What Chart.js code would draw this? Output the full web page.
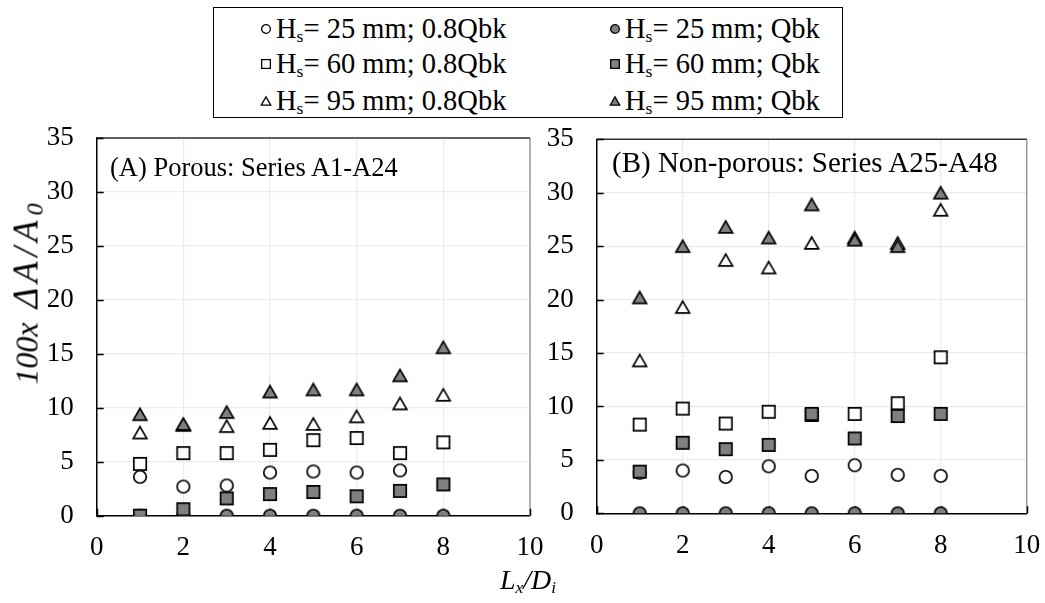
<!DOCTYPE html>
<html>
<head>
<meta charset="utf-8">
<script src="https://cdn.jsdelivr.net/npm/chart.js@4.4.0/dist/chart.umd.min.js"></script>
<style>
  html, body { margin: 0; padding: 0; background: #fff; }
  #wrap { position: relative; width: 1045px; height: 603px; overflow: hidden;
          font-family: "Liberation Serif", "Times New Roman", serif; color: #000; }
  canvas { position: absolute; top: 0; }
  #cA { left: 0; }
  #cB { left: 535px; }
  .legend { position: absolute; left: 213px; top: 7px; width: 630px; height: 111px;
            border: 1px solid #000; box-sizing: border-box; background: #fff; font-size: 28.5px; }
  .item { position: absolute; white-space: nowrap; line-height: 30px; height: 30px; }
  .item canvas { position: static; vertical-align: middle; margin-right: 3px; margin-top: -4px; }
  .item sub, .ttl sub { font-size: 62%; vertical-align: -0.22em; line-height: 0; }
  .panel { position: absolute; line-height: 28px; white-space: nowrap; }
  .ttl { position: absolute; font-style: italic; white-space: nowrap; line-height: 1; }
  #ytitle .wide { font-size: 35px; letter-spacing: 5px; margin-left: 6px; }
  #ytitle sub { font-size: 24px; }
</style>
</head>
<body>
<div id="wrap">
  <canvas id="cA" width="545" height="603"></canvas>
  <canvas id="cB" width="510" height="603"></canvas>
  <div class="legend" id="legend"></div>
  <div class="panel" id="labA" style="left:110px; top:153px; font-size:26.5px;">(A) Porous: Series A1-A24</div>
  <div class="panel" id="labB" style="left:612px; top:148px; font-size:29px;">(B) Non-porous: Series A25-A48</div>
  <div class="ttl" id="ytitle" style="left:26px; top:294px; font-size:32px; transform: translate(-50%,-50%) rotate(-90deg);">100x <span class="wide">ΔA/A</span><sub>0</sub></div>
  <div class="ttl" id="xtitle" style="left:528px; top:580px; font-size:28px; transform: translate(-50%,-50%);">L<sub>x</sub>/D<sub>i</sub></div>
</div>
<script>
// Relative distance from the inlet, L_x / D_i
const lxdi = [1, 2, 3, 4, 5, 6, 7, 8];

// (A) Porous sediment: Series A1-A24, values of 100x dA/A0
const porous_25_08 = [3.6, 2.7, 2.8, 4.0, 4.1, 4.0, 4.2, null];
const porous_25_q  = [0, 0, 0, 0, 0, 0, 0, 0];
const porous_60_08 = [4.8, 5.8, 5.8, 6.1, 7.0, 7.2, 5.8, 6.8];
const porous_60_q  = [0.0, 0.6, 1.6, 2.0, 2.2, 1.8, 2.3, 2.9];
const porous_95_08 = [7.7, 8.4, 8.3, 8.6, 8.5, 9.2, 10.4, 11.2];
const porous_95_q  = [9.4, 8.5, 9.6, 11.5, 11.7, 11.7, 13.0, 15.6];

// (B) Non-porous sediment: Series A25-A48
const solid_25_08 = [3.8, 4.0, 3.4, 4.4, 3.5, 4.5, 3.6, 3.5];
const solid_25_q  = [0, 0, 0, 0, 0, 0, 0, 0];
const solid_60_08 = [8.3, 9.8, 8.4, 9.5, 9.2, 9.3, 10.3, 14.6];
const solid_60_q  = [3.9, 6.6, 6.0, 6.4, 9.3, 7.0, 9.1, 9.3];
const solid_95_08 = [14.3, 19.3, 23.7, 23.0, 25.3, 25.8, 25.3, 28.4];
const solid_95_q  = [20.2, 25.0, 26.8, 25.8, 28.9, 25.6, 25.0, 30.0];

// Axis ticks
const xTicks = [0, 2, 4, 6, 8, 10];
const yTicks = [0, 5, 10, 15, 20, 25, 30, 35];

// Series names
const seriesNames = [
  ['H', 's', '= 25 mm; 0.8Qbk'], ['H', 's', '= 25 mm; Qbk'],
  ['H', 's', '= 60 mm; 0.8Qbk'], ['H', 's', '= 60 mm; Qbk'],
  ['H', 's', '= 95 mm; 0.8Qbk'], ['H', 's', '= 95 mm; Qbk']
];

const FONT = '"Liberation Serif", "Times New Roman", serif';
const GREY = '#808080';

// Marker sprites drawn centred on their bounding box
function marker(shape, fill, scale, lw) {
  const s = Math.ceil(16 * scale) + 2;
  const c = document.createElement('canvas');
  c.width = s; c.height = s;
  const g = c.getContext('2d');
  const m = s / 2;
  g.lineWidth = lw;
  g.strokeStyle = '#000';
  g.fillStyle = fill;
  g.lineJoin = 'miter';
  g.beginPath();
  if (shape === 'circle') {
    g.arc(m, m, 5.8 * scale, 0, Math.PI * 2);
  } else if (shape === 'rect') {
    const h = 5.75 * scale;
    g.rect(m - h, m - h, 2 * h, 2 * h);
  } else {
    const hw = 6.3 * scale, hh = 5.5 * scale;
    g.moveTo(m, m - hh);
    g.lineTo(m + hw, m + hh);
    g.lineTo(m - hw, m + hh);
    g.closePath();
  }
  g.fill();
  g.stroke();
  return c;
}

const shapes = ['circle', 'circle', 'rect', 'rect', 'triangle', 'triangle'];
const fills = ['#fff', GREY, '#fff', GREY, '#fff', GREY];
// drawing order: filled symbols on top of open ones, triangles on top
const orders = [5, 2, 4, 1, 3, 0];

function pts(ys) {
  return lxdi.map((x, i) => ({ x: x, y: ys[i] })).filter(p => p.y !== null);
}

function datasets(list) {
  return list.map((ys, k) => ({
    label: seriesNames[k].join(''),
    data: pts(ys),
    pointStyle: marker(shapes[k], fills[k], 1.08, 1.7),
    pointRadius: 8,
    showLine: false,
    order: orders[k]
  }));
}

// Plot frame: top and right edges plus inward tick marks
const frame = {
  id: 'frame',
  beforeDatasetsDraw(chart) {
    const { ctx, chartArea: a, scales } = chart;
    ctx.save();
    ctx.lineWidth = 1.5;
    ctx.strokeStyle = '#9a9a9a';
    ctx.beginPath();
    ctx.moveTo(a.right, a.bottom);
    ctx.lineTo(a.right, a.top);
    ctx.stroke();
    ctx.strokeStyle = '#333';
    ctx.beginPath();
    ctx.moveTo(a.left, a.top);
    ctx.lineTo(a.right, a.top);
    ctx.stroke();
    ctx.strokeStyle = '#000';
    ctx.beginPath();
    scales.y.ticks.forEach(t => {
      const py = Math.round(scales.y.getPixelForValue(t.value)) + 0.5;
      ctx.moveTo(a.left, py);
      ctx.lineTo(a.left + 7, py);
    });
    scales.x.ticks.forEach(t => {
      const px = Math.round(scales.x.getPixelForValue(t.value)) + 0.5;
      ctx.moveTo(px, a.bottom);
      ctx.lineTo(px, a.bottom - 7);
    });
    ctx.stroke();
    ctx.restore();
  }
};

function makeChart(id, list, pad, yWidth, xHeight) {
  return new Chart(document.getElementById(id), {
    type: 'scatter',
    data: { datasets: datasets(list) },
    options: {
      responsive: false,
      animation: false,
      events: [],
      layout: { padding: pad },
      plugins: { legend: { display: false }, tooltip: { enabled: false } },
      scales: {
        x: {
          type: 'linear', min: 0, max: 10,
          afterBuildTicks: s => { s.ticks = xTicks.map(v => ({ value: v })); },
          afterFit: s => { s.height = xHeight; s.paddingLeft = 0; s.paddingRight = 0; },
          grid: { color: '#ebebeb', lineWidth: 1.2, drawTicks: false },
          border: { color: '#000', width: 1.5 },
          ticks: { padding: 16, color: '#000', font: { family: FONT, size: 27 } }
        },
        y: {
          type: 'linear', min: 0, max: 35,
          afterBuildTicks: s => { s.ticks = yTicks.map(v => ({ value: v })); },
          afterFit: s => { s.width = yWidth; s.paddingTop = 0; s.paddingBottom = 0; },
          grid: { color: '#ebebeb', lineWidth: 1.2, drawTicks: false },
          border: { color: '#000', width: 1.5 },
          ticks: { padding: 23, color: '#000', font: { family: FONT, size: 27 } }
        }
      }
    },
    plugins: [frame]
  });
}

makeChart('cA',
  [porous_25_08, porous_25_q, porous_60_08, porous_60_q, porous_95_08, porous_95_q],
  { left: 0, right: 15, top: 138, bottom: 0 }, 96.7, 87.3);
makeChart('cB',
  [solid_25_08, solid_25_q, solid_60_08, solid_60_q, solid_95_08, solid_95_q],
  { left: 0, right: 18.3, top: 139.3, bottom: 0 }, 61.7, 89.7);

// Legend: two columns, three rows
const legend = document.getElementById('legend');
const colX = [45, 394];
const rowY = [6, 41, 78];
seriesNames.forEach((n, k) => {
  const d = document.createElement('div');
  d.className = 'item';
  d.style.left = colX[k % 2] + 'px';
  d.style.top = rowY[Math.floor(k / 2)] + 'px';
  d.appendChild(marker(shapes[k], fills[k], 0.75, 1.3));
  d.appendChild(document.createTextNode(n[0]));
  const sb = document.createElement('sub');
  sb.textContent = n[1];
  d.appendChild(sb);
  d.appendChild(document.createTextNode(n[2]));
  legend.appendChild(d);
});
</script>
</body>
</html>
